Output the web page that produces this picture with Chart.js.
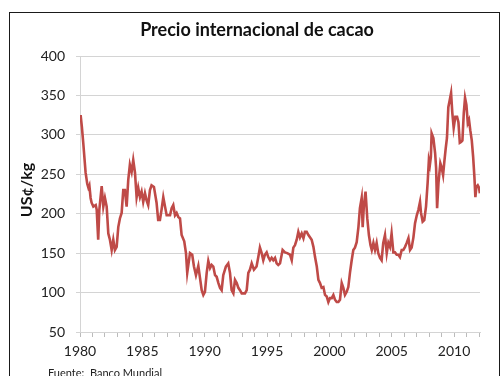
<!DOCTYPE html>
<html lang="es">
<head>
<meta charset="UTF-8">
<title>Precio internacional de cacao</title>
<script src="https://cdn.jsdelivr.net/npm/chart.js"></script>
<style>
    body {
        margin: 0;
        background: #ffffff;
    }
    .wrap {
        position: relative;
        width: 500px;
        height: 376px;
        overflow: hidden;
    }
    .frame {
        position: absolute;
        left: 9px;
        top: 12px;
        width: 489px;
        height: 400px;
        border: 1px solid #1a1a1a;
        pointer-events: none;
    }
    .fuente {
        position: absolute;
        left: 48px;
        top: 366px;
        font-family: Lato, Arial, sans-serif;
        font-size: 11px;
        color: #222;
    }
    canvas {
        position: absolute;
        left: 0;
        top: 0;
    }
</style>
</head>
<body>
<div class="wrap">
    <canvas id="cacao" width="500" height="376"></canvas>
    <div class="frame"></div>
    <div class="fuente">Fuente:&nbsp; Banco Mundial</div>
</div>
<script>
// precio mensual aproximado (US¢/kg), año decimal
const years = [
    1980.00, 1980.05, 1980.15, 1980.26, 1980.45, 1980.58, 1980.67, 1980.75, 1980.85, 1980.93,
    1981.07, 1981.26, 1981.34, 1981.46, 1981.55, 1981.74, 1981.87, 1982.00, 1982.14, 1982.27,
    1982.40, 1982.54, 1982.67, 1982.80, 1982.94, 1983.07, 1983.20, 1983.34, 1983.47, 1983.60,
    1983.74, 1983.87, 1984.00, 1984.14, 1984.27, 1984.41, 1984.54, 1984.67, 1984.81, 1984.94,
    1985.07, 1985.21, 1985.34, 1985.47, 1985.61, 1985.74, 1985.93, 1986.14, 1986.27, 1986.41,
    1986.54, 1986.68, 1986.82, 1986.95, 1987.22, 1987.35, 1987.48, 1987.62, 1987.75, 1987.88,
    1988.02, 1988.15, 1988.36, 1988.50, 1988.60, 1988.82, 1989.00, 1989.14, 1989.30, 1989.49,
    1989.62, 1989.76, 1989.89, 1990.02, 1990.16, 1990.29, 1990.43, 1990.56, 1990.69, 1990.83,
    1990.96, 1991.10, 1991.23, 1991.36, 1991.49, 1991.70, 1991.89, 1992.03, 1992.16, 1992.30,
    1992.43, 1992.57, 1992.70, 1992.83, 1992.97, 1993.23, 1993.37, 1993.50, 1993.63, 1993.77,
    1993.95, 1994.16, 1994.30, 1994.43, 1994.57, 1994.70, 1994.83, 1994.97, 1995.10, 1995.24,
    1995.37, 1995.50, 1995.64, 1995.77, 1995.90, 1996.04, 1996.25, 1996.44, 1996.62, 1996.84,
    1996.98, 1997.11, 1997.24, 1997.38, 1997.51, 1997.64, 1997.78, 1997.92, 1998.04, 1998.18,
    1998.32, 1998.58, 1998.72, 1998.85, 1998.99, 1999.12, 1999.25, 1999.38, 1999.52, 1999.65,
    1999.79, 1999.92, 2000.05, 2000.19, 2000.32, 2000.45, 2000.59, 2000.72, 2000.85, 2000.99,
    2001.12, 2001.25, 2001.39, 2001.52, 2001.65, 2001.79, 2001.92, 2002.05, 2002.19, 2002.33,
    2002.45, 2002.59, 2002.67, 2002.77, 2002.90, 2003.04, 2003.17, 2003.30, 2003.40, 2003.53,
    2003.66, 2003.79, 2003.92, 2004.06, 2004.19, 2004.32, 2004.46, 2004.60, 2004.73, 2004.86,
    2004.99, 2005.13, 2005.26, 2005.40, 2005.53, 2005.66, 2005.80, 2005.93, 2006.07, 2006.20,
    2006.34, 2006.47, 2006.60, 2006.74, 2006.87, 2007.01, 2007.14, 2007.27, 2007.35, 2007.48,
    2007.61, 2007.75, 2007.88, 2007.98, 2008.06, 2008.14, 2008.20, 2008.34, 2008.48, 2008.56,
    2008.64, 2008.75, 2008.90, 2009.00, 2009.12, 2009.22, 2009.33, 2009.43, 2009.54, 2009.65,
    2009.76, 2009.86, 2009.97, 2010.10, 2010.24, 2010.35, 2010.46, 2010.56, 2010.67, 2010.78,
    2010.88, 2010.99, 2011.10, 2011.20, 2011.30, 2011.42, 2011.53, 2011.63, 2011.71, 2011.79,
    2011.90, 2012.00, 2012.07
];
const prices = [
    320, 325, 310, 290, 252, 238, 233, 236, 220, 214,
    209, 211, 205, 167, 205, 235, 209, 220, 209, 175,
    167, 154, 167, 154, 158, 183, 194, 201, 230, 230,
    209, 243, 262, 253, 268, 252, 221, 233, 221, 228,
    215, 226, 217, 211, 230, 236, 234, 214, 192, 192,
    205, 221, 209, 198, 198, 207, 211, 198, 201, 196,
    194, 173, 165, 150, 125, 150, 148, 133, 122, 134,
    119, 103, 97, 101, 125, 140, 131, 135, 133, 122,
    120, 112, 106, 103, 122, 133, 137, 125, 103, 99,
    116, 112, 106, 103, 99, 99, 103, 125, 129, 137,
    129, 133, 145, 157, 150, 141, 148, 151, 145, 141,
    144, 141, 144, 137, 135, 137, 154, 151, 150, 148,
    141, 157, 160, 167, 177, 170, 175, 169, 177, 177,
    173, 167, 158, 145, 133, 116, 112, 106, 107, 97,
    95, 88, 93, 93, 97, 91, 88, 88, 91, 112,
    106, 97, 101, 107, 125, 141, 154, 157, 164, 183,
    207, 220, 183, 211, 228, 194, 173, 160, 154, 163,
    154, 163, 150, 144, 141, 163, 173, 150, 163, 158,
    175, 151, 151, 148, 148, 145, 154, 154, 158, 163,
    169, 154, 157, 170, 188, 198, 205, 215, 201, 190,
    192, 209, 239, 268, 262, 272, 302, 296, 277, 258,
    207, 239, 264, 259, 249, 266, 283, 296, 335, 344,
    353, 328, 309, 323, 323, 316, 290, 291, 293, 328,
    347, 338, 315, 319, 306, 293, 272, 247, 221, 234,
    236, 233, 226
];
const yTicks = [50, 100, 150, 200, 250, 300, 350, 400];
const xLabels = [1980, 1985, 1990, 1995, 2000, 2005, 2010];

const fontFamily = 'Lato, Arial, sans-serif';
const gridColor = '#d4d4d4';

// title and rotated unit label, placed by hand
const textLabels = {
    id: 'textLabels',
    afterDraw(chart) {
        const ctx = chart.ctx;
        ctx.save();
        ctx.fillStyle = '#111';
        ctx.textAlign = 'center';
        ctx.textBaseline = 'middle';
        ctx.font = 'bold 18px ' + fontFamily;
        ctx.fillText('Precio internacional de cacao', 257, 30);
        ctx.translate(27, 190);
        ctx.rotate(-Math.PI / 2);
        ctx.font = 'bold 16px ' + fontFamily;
        ctx.fillText('US¢/kg', 0, 0);
        ctx.restore();
    }
};

new Chart(document.getElementById('cacao'), {
    type: 'line',
    data: {
        datasets: [{
            data: years.map((x, i) => ({ x: x, y: prices[i] })),
            borderColor: '#bf4a47',
            borderWidth: 2.6,
            pointRadius: 0,
            tension: 0,
            fill: false
        }]
    },
    plugins: [textLabels],
    options: {
        responsive: false,
        animation: false,
        layout: { padding: { left: 0, right: 20, top: 56, bottom: 0 } },
        plugins: {
            legend: { display: false },
            tooltip: { enabled: false },
            title: { display: false }
        },
        scales: {
            x: {
                type: 'linear',
                min: 1980,
                max: 2012.08,
                afterFit: (scale) => { scale.height = 44; },
                afterBuildTicks: (scale) => {
                    const t = [];
                    for (let y = 1980; y <= 2012; y++) t.push({ value: y });
                    scale.ticks = t;
                },
                ticks: {
                    autoSkip: false,
                    maxRotation: 0,
                    padding: 6,
                    color: '#222',
                    font: { family: fontFamily, size: 14 },
                    callback: (v) => xLabels.includes(v) ? String(v) : ''
                },
                grid: {
                    drawOnChartArea: false,
                    drawTicks: true,
                    tickLength: 5,
                    color: '#bbbbbb'
                },
                border: { display: true, color: gridColor }
            },
            y: {
                min: 50,
                max: 400,
                afterFit: (scale) => { scale.width = 80; },
                afterBuildTicks: (scale) => {
                    scale.ticks = yTicks.map(v => ({ value: v }));
                },
                ticks: {
                    padding: 11,
                    color: '#222',
                    font: { family: fontFamily, size: 14 }
                },
                grid: {
                    color: gridColor,
                    lineWidth: 1,
                    tickLength: 4
                },
                border: { display: true, color: gridColor }
            }
        }
    }
});
</script>
</body>
</html>
